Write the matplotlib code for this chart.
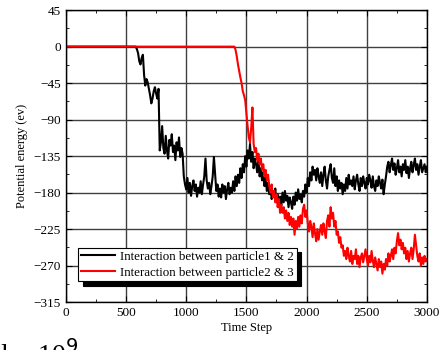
import numpy as np
import matplotlib
matplotlib.use("Agg")
import matplotlib.pyplot as plt
from matplotlib.ticker import MultipleLocator

plt.rcParams['font.family'] = ['Liberation Serif', 'DejaVu Serif']

# Interaction between particle 1 & 2 (black), from step 580, every 10 steps
black_start = 580
black_vals = [
    0, -3, -8, -18, -22, -14, -10, -35, -48, -40,
    -44, -52, -60, -70, -64, -55, -50, -58, -64, -52,
    -128, -118, -98, -125, -132, -110, -128, -138, -115, -122,
    -108, -130, -122, -140, -118, -128, -112, -136, -125, -132,
    -160, -170, -176, -162, -180, -168, -184, -172, -165, -178,
    -170, -185, -174, -180, -166, -182, -170, -160, -138, -165,
    -175, -168, -182, -172, -160, -136, -158, -178, -170, -185,
    -175, -186, -170, -180, -172, -188, -176, -168, -182, -174,
    -180, -166, -178, -160, -172, -158, -168, -150, -162, -145,
    -155, -135, -148, -128, -138, -120, -142, -130, -150, -138,
    -145, -155, -140, -160, -150, -165, -155, -172, -162, -178,
    -168, -182, -172, -188, -178, -185, -175, -192, -182, -195,
    -185, -196, -180, -192, -178, -190, -184, -198, -186, -192,
    -200, -185, -195, -180, -190, -176, -188, -182, -192, -178,
    -185, -170, -180, -162, -172, -155, -165, -148, -158, -152,
    -165, -150, -160, -168, -155, -172, -158, -148, -165, -175,
    -160, -152, -145, -162, -168, -150, -172, -160, -178, -165,
    -175, -168, -182, -170, -178, -162, -175, -158, -170, -165,
    -172, -160, -176, -165, -158, -170, -178, -162, -172, -160,
    -168, -175, -162, -170, -158, -165, -174, -160, -172, -178,
    -165, -172, -160, -168, -175, -164, -182, -170, -160, -148,
    -142, -155, -146, -138, -152, -144, -158, -150, -140, -155,
    -148, -160, -145, -152, -140, -156, -148, -162, -150, -142,
    -155, -146, -138, -152, -145, -158, -148, -140, -155, -150,
    -145, -155, -148,
]

# Interaction between particle 2 & 3 (red), from step 1400, every 10 steps
red_start = 1400
red_vals = [
    0, -4, -12, -22, -30, -38, -45, -55, -60, -66,
    -82, -98, -112, -118, -100, -75, -120, -130, -125, -140,
    -132, -145, -138, -152, -145, -160, -152, -165, -158, -172,
    -180, -170, -186, -178, -192, -182, -198, -188, -205, -195,
    -205, -198, -212, -202, -215, -205, -220, -210, -222, -212,
    -232, -215, -225, -210, -222, -208, -218, -200, -195, -210,
    -202, -218, -228, -215, -222, -235, -218, -230, -240, -225,
    -238, -228, -220, -232, -218, -228, -236, -215, -208, -222,
    -198, -212, -205, -222, -215, -232, -228, -242, -235, -248,
    -245, -258, -252, -262, -248, -258, -265, -252, -268, -258,
    -262, -250, -268, -258, -272, -260, -255, -266, -258, -250,
    -262, -270, -258, -266, -252, -264, -272, -260, -268, -276,
    -262, -272, -265, -280, -268, -275, -262, -270, -255, -265,
    -258, -250, -262, -248, -255, -240, -230, -245, -238, -250,
    -242, -255, -248, -262, -252, -265, -255, -248, -262, -250,
    -232, -245, -258, -265, -255, -270, -260, -268, -258, -265,
    -262,
]

step = 10
t_black = np.concatenate([[0], black_start + step * np.arange(len(black_vals))])
y_black = np.concatenate([[0], black_vals])
t_red = np.concatenate([[0], red_start + step * np.arange(len(red_vals))])
y_red = np.concatenate([[0], red_vals])

fig = plt.figure(figsize=(4.48, 3.5), dpi=100)
ax = fig.add_axes([0.147, 0.137, 0.806, 0.834])

ax.grid(True, color='0.25', lw=1.0)
ax.set_axisbelow(True)
ax.plot(t_black, y_black, color='black', lw=1.5, label='Interaction between particle1 & 2')
ax.plot(t_red, y_red, color='red', lw=1.5, label='Interaction between particle2 & 3')

ax.set_xlim(0, 3000)
ax.set_ylim(-315, 45)
ax.xaxis.set_major_locator(MultipleLocator(500))
ax.xaxis.set_minor_locator(MultipleLocator(250))
ax.yaxis.set_major_locator(MultipleLocator(45))
ax.yaxis.set_minor_locator(MultipleLocator(22.5))
ax.tick_params(which='both', direction='in', top=True, right=True, labelsize=9.5)
ax.tick_params(which='major', length=4)
ax.tick_params(which='minor', length=2.5)
for s in ax.spines.values():
    s.set_linewidth(1.0)

ax.set_xlabel('Time Step', fontsize=9, labelpad=2)
ax.set_ylabel('Potential energy (ev)', fontsize=9, labelpad=4)

leg = ax.legend(loc='upper left', bbox_to_anchor=(0.035, 0.185), fontsize=9.4,
                frameon=True, fancybox=False, edgecolor='black', framealpha=1,
                shadow={'color': 'black', 'alpha': 1, 'ox': 3, 'oy': -3},
                borderpad=0.2, labelspacing=0.3, handlelength=2.6,
                handletextpad=0.4, borderaxespad=0)
leg.get_frame().set_linewidth(0.8)

fig.text(0.0, -0.058, 'l = 10$^{9}$', fontsize=20, ha='left', va='bottom')

fig.savefig('out.png', dpi=100)
